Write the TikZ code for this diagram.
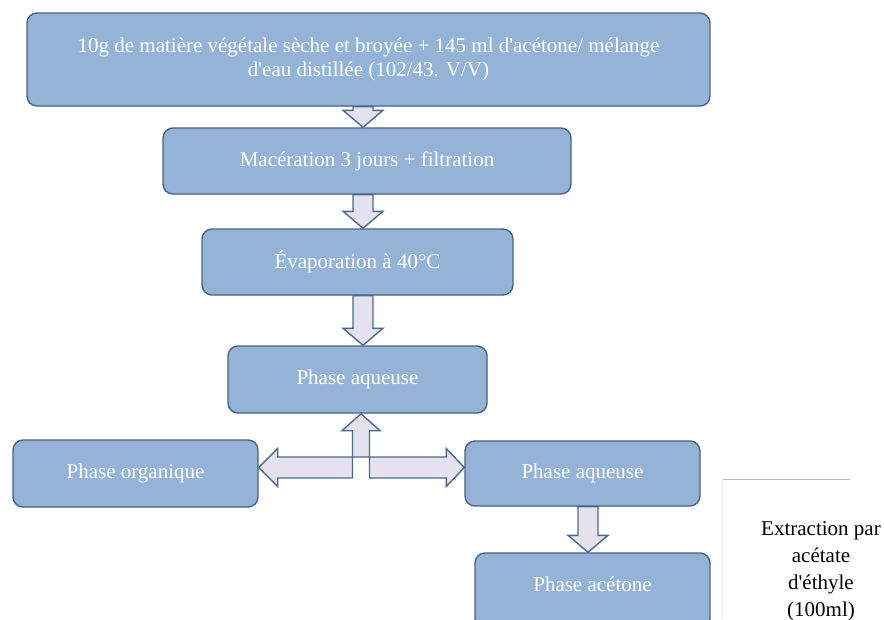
\documentclass[tikz,border=0pt]{standalone}
\usepackage{fontspec}
\setmainfont{Liberation Serif}
\usetikzlibrary{calc}

\definecolor{boxfill}{HTML}{95B3D7}
\definecolor{boxline}{HTML}{4A6284}
\definecolor{arrowfill}{HTML}{E6E1EE}
\definecolor{arrowline}{HTML}{4D6A8E}

\newcommand\apos{\textquotesingle}

% vertical block arrow from the bottom of #2 to the top of #3 at x = #1
\newcommand\blockdown[3]{%
  \draw[blockarrow] let \p1=(#2.south), \p2=(#3.north) in
    (#1pt-10pt,\y1) -- (#1pt+10pt,\y1) -- (#1pt+10pt,\y2+17pt)
    -- (#1pt+20pt,\y2+17pt) -- (#1pt,\y2) -- (#1pt-20pt,\y2+17pt)
    -- (#1pt-10pt,\y2+17pt) -- cycle;}

\begin{document}
\begin{tikzpicture}[x=1pt,y=-1pt,
  stepbox/.style={draw=boxline, line width=1.4pt, fill=boxfill,
    rounded corners=10pt, inner sep=0pt, text=white,
    font=\fontsize{21}{24}\selectfont, align=center},
  blockarrow/.style={draw=arrowline, line width=1.4pt, fill=arrowfill,
    line join=miter},
  note/.style={inner sep=0pt, align=center, text=black,
    font=\fontsize{21}{27}\selectfont}]

\useasboundingbox (0,0) rectangle (884,619);
\clip (0,0) rectangle (884,619);

% process steps
\node[stepbox, minimum width=683pt, minimum height=93pt] (b1) at (368.5,59.5)
  {\raisebox{-3pt}{\begin{tabular}{@{}c@{}}10g de matière végétale sèche et broyée + 145 ml d\apos acétone/ mélange\\
   d\apos eau distillée (102/43. V/V)\end{tabular}}};
\node[stepbox, minimum width=408pt, minimum height=66pt] (b2) at (367,161)
  {Macération 3 jours + filtration};
\node[stepbox, minimum width=311pt, minimum height=66pt] (b3) at (357.5,262)
  {Évaporation à 40°C};
\node[stepbox, minimum width=259pt, minimum height=67pt] (b4) at (357.5,379.5)
  {Phase aqueuse};
\node[stepbox, minimum width=245pt, minimum height=67pt] (b5) at (135.5,473.5)
  {Phase organique};
\node[stepbox, minimum width=235pt, minimum height=65pt] (b6) at (582.5,473.5)
  {Phase aqueuse};
\node[stepbox, minimum width=235pt, minimum height=76pt] (b7) at (592.5,591)
  {\raisebox{14pt}{Phase acétone}};

% downward block arrows
\blockdown{363}{b1}{b2}
\blockdown{363}{b2}{b3}
\blockdown{363}{b3}{b4}
\blockdown{588}{b6}{b7}

% split into the two phases
\coordinate (junc) at (361,467.5);
\draw[blockarrow] let \p1=(b5.east), \p2=(b6.west), \p3=(b4.south), \p4=(junc) in
  (\x1,\y4) -- (\x1+19pt,\y4-19pt) -- (\x1+19pt,\y4-10.5pt)
  -- (\x4-8.5pt,\y4-10.5pt) -- (\x4-8.5pt,\y3-17pt) -- (\x4-19pt,\y3-17pt)
  -- (\x4,\y3) -- (\x4+19pt,\y3-17pt) -- (\x4+8.5pt,\y3-17pt)
  -- (\x4+8.5pt,\y4-10.5pt) -- (\x2-18pt,\y4-10.5pt) -- (\x2-18pt,\y4-19pt)
  -- (\x2,\y4) -- (\x2-18pt,\y4+19pt) -- (\x2-18pt,\y4+10.5pt)
  -- (\x1+19pt,\y4+10.5pt) -- (\x1+19pt,\y4+19pt) -- cycle;

% side note
\coordinate (nl) at (722,479);
\coordinate (nr) at (850,479);
\coordinate (nb) at (722,619);
\draw[gray!55, line width=0.8pt] (nl) -- (nr);
\draw[gray!15, line width=0.8pt] (nl) -- (nb);
\node[note] (n1) at (821,571)
  {Extraction par\\acétate\\d\apos éthyle\\(100ml)};
\end{tikzpicture}
\end{document}
